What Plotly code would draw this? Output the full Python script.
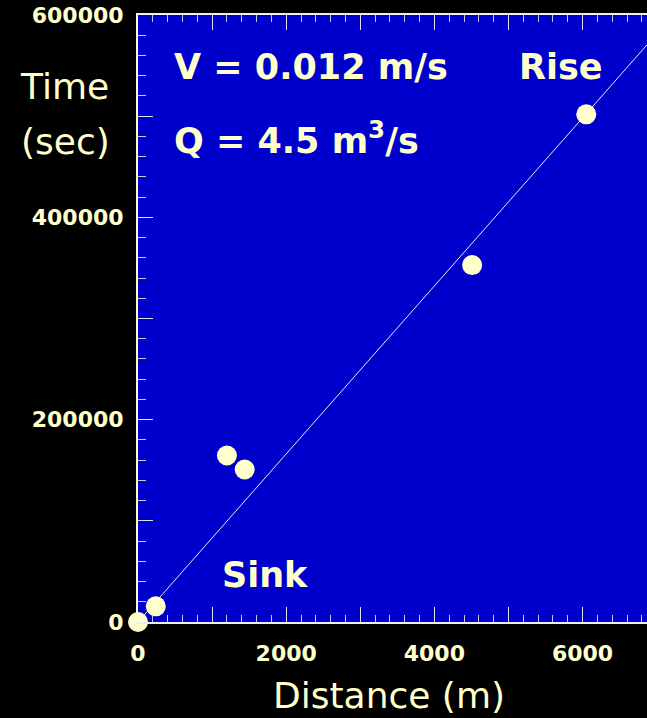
import plotly.graph_objects as go

# Data
distance_m = [0, 240, 1200, 1440, 4510, 6050]
time_s = [0, 15500, 164600, 150700, 352800, 501800]

fit_x = [0, 6870]
fit_y = [0, 570500]

x_tickvals = [0, 1000, 2000, 3000, 4000, 5000, 6000]
x_ticktext = ["0", " ", "2000", " ", "4000", " ", "6000"]
y_tickvals = [0, 100000, 200000, 300000, 400000, 500000, 600000]
y_ticktext = ["0", " ", "200000", " ", "400000", " ", "600000"]

TXT = "#FFFFCC"
BLUE = "#0000CC"
FONT = "DejaVu Sans"

W, H = 647, 718
L, T, R, B = 138, 15, 0, 96
PW, PH = W - L - R, H - T - B


def px(xp):
    return (xp - L) / PW


def py(yp):
    return (H - B - yp) / PH


fig = go.Figure()
fig.add_trace(go.Scatter(x=fit_x, y=fit_y, mode="lines",
                         line=dict(color="#E8E8F0", width=1), hoverinfo="skip",
                         showlegend=False))
fig.add_trace(go.Scatter(x=distance_m, y=time_s, mode="markers",
                         marker=dict(size=20, color=TXT, line=dict(width=0)),
                         showlegend=False, cliponaxis=False))

fig.update_layout(
    width=W, height=H,
    margin=dict(l=L, r=R, t=T, b=B, pad=0),
    paper_bgcolor="black", plot_bgcolor=BLUE,
    font=dict(family=FONT, color=TXT),
    showlegend=False,
)
fig.update_xaxes(
    range=[0, 6870], tickmode="array", tickvals=x_tickvals, ticktext=x_ticktext,
    ticks="inside", ticklen=15, tickcolor="#E0E0F0", tickwidth=1,
    minor=dict(dtick=200, tick0=0, ticks="inside", ticklen=7, tickcolor="#C8C8E0"),
    showgrid=False, zeroline=False, showline=True, linecolor="#F0F0F0", linewidth=2,
    mirror="ticks",
    tickfont=dict(family=FONT, size=22, color=TXT, weight="bold"),
    ticklabelstandoff=11,
)
fig.update_yaxes(
    range=[0, 600000], tickmode="array", tickvals=y_tickvals, ticktext=y_ticktext,
    ticks="inside", ticklen=15, tickcolor="#E0E0F0", tickwidth=1,
    minor=dict(dtick=20000, tick0=0, ticks="inside", ticklen=8, tickcolor="#C8C8E0"),
    showgrid=False, zeroline=False, showline=True, linecolor=TXT, linewidth=2,
    mirror=False,
    tickfont=dict(family=FONT, size=22, color=TXT, weight="bold"),
    ticklabelstandoff=8,
)

big = dict(family=FONT, size=35, color=TXT, weight="bold")
ann = [
    dict(text="V = 0.012 m/s", x=px(172), y=py(67), xanchor="left", yanchor="middle", font=big),
    dict(text="Q = 4.5 m<sup>3</sup>/s", x=px(172), y=py(138), xanchor="left", yanchor="middle", font=big),
    dict(text="Rise", x=px(561), y=py(67), xanchor="center", yanchor="middle", font=big),
    dict(text="Sink", x=px(265), y=py(575), xanchor="center", yanchor="middle", font=big),
    dict(text="Time", x=px(64), y=py(87), xanchor="center", yanchor="middle",
         font=dict(family=FONT, size=36, color=TXT)),
    dict(text="(sec)", x=px(65), y=py(141), xanchor="center", yanchor="middle",
         font=dict(family=FONT, size=36, color=TXT)),
    dict(text="Distance (m)", x=px(389), y=py(695), xanchor="center", yanchor="middle",
         font=dict(family=FONT, size=36, color=TXT)),
]
for a in ann:
    a.update(xref="paper", yref="paper", showarrow=False)
fig.update_layout(annotations=ann)

fig.write_html("out.html", config={"displayModeBar": False},
               post_script="document.body.style.margin='0';")
